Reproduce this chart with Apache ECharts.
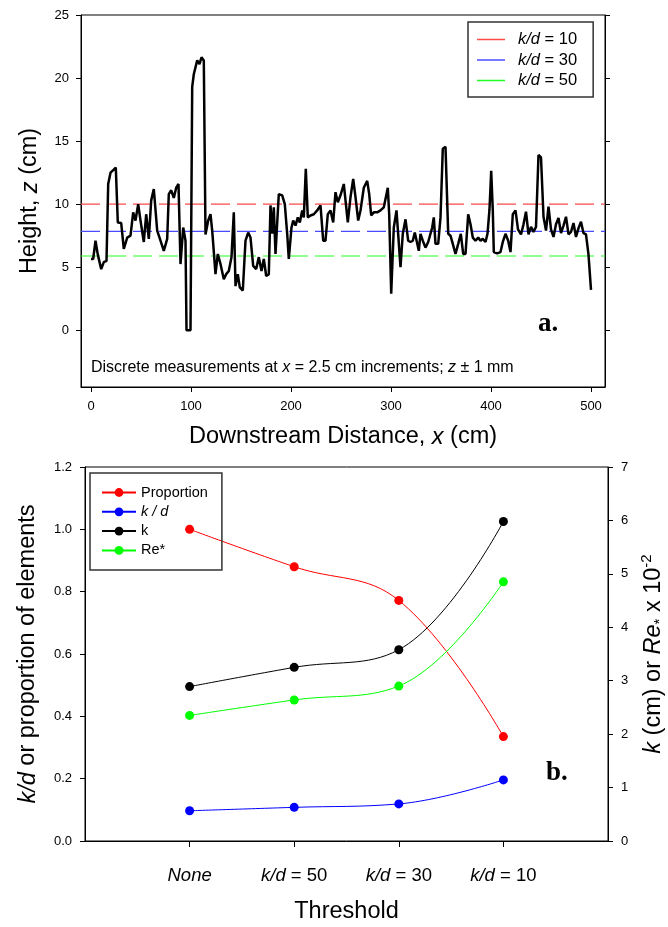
<!DOCTYPE html>
<html>
<head>
<meta charset="utf-8">
<script src="https://cdn.jsdelivr.net/npm/echarts@6/dist/echarts.min.js"></script>
<style>
  html, body { margin: 0; padding: 0; background: #fff; }
  #chart { width: 668px; height: 927px; }
</style>
</head>
<body>
<div id="chart"></div>
<script>
// ---- panel a: bed profile ----
var distance = [0, 2.2, 4.5, 6.8, 10.2, 12.8, 15.5, 17.2, 19.5, 22.2, 24.8, 26.8, 30.2, 32.8, 36.2, 39.5, 42.2, 44.5, 47.2, 49.5,
  52.8, 55.2, 57.8, 60.2, 62.8, 66.2, 69.5, 72.8, 76.2, 77.8, 80.2, 82.8, 85.2, 87.5, 89.5, 92.2, 94.5, 95.5, 99.5,
  101.2, 102.8, 106.2, 108.5, 110.5, 112.8, 114.5, 117.2, 119.5, 121.2, 124.5, 126.8, 129.5, 132.8, 135.2, 137.8, 140.5, 142.8, 144.5, 146.8,
  148.8, 151.8, 154.5, 157.2, 159.5, 162.2, 165.2, 167.8, 170.5, 172.8, 175.2, 177.8, 179.5, 181.2, 182.8, 184.5, 187.8, 191.2, 193.8, 196.2, 197.8,
  200.5, 202.2, 204.5, 206.8, 208.8, 211.2, 212.8, 214.8, 216.8, 219.5, 222.8, 226.2, 229.5, 232.2, 234.5, 236.8, 239.5, 242.2, 244.5, 246.8,
  249.5, 252.8, 256.8, 259.5, 262.2, 264.5, 267.2, 269.5, 272.8, 276.2, 278.2, 280.2, 282.8, 286.2, 289.5, 292.8, 296.8, 298.2, 300.2, 302.8,
  305.5, 307.2, 309.5,
  311.8, 314.5, 317.2, 319.5, 321.8, 323.8, 325.8, 327.8, 329.5, 331.8, 334.5, 337.2, 339.2, 341.2, 342.8, 344.5, 347.2, 349.5, 351.8, 354.5,
  357.2, 359.5, 361.8, 364.5, 367.2, 369.8, 372.2, 374.5, 377.2, 379.5, 381.8, 384.5, 387.2, 389.5, 391.8, 394.5, 396.5, 398.5, 400.2, 401.8,
  402.8, 406.2, 409.5, 411.8, 414.5, 417.2, 419.5, 421.8, 424.5,
  427, 430, 432.5, 435, 437.5, 440, 442.5, 445, 447.5, 450, 452.5, 455, 457.5, 460, 462.5, 465, 467.5, 470, 472.5, 475,
  477.5, 480, 482.5, 485, 487.5, 490, 492.5, 495, 497.5, 500];
var height = [5.65, 5.65, 7.1, 6.0, 4.85, 5.4, 5.5, 11.6, 12.5, 12.7, 12.9, 8.55, 8.5, 6.45, 7.35, 7.5, 9.35, 8.7, 10.0, 8.7,
  7.0, 9.2, 7.25, 10.3, 11.2, 7.9, 7.1, 6.3, 7.25, 10.8, 11.1, 10.5, 11.3, 11.6, 5.25, 8.15, 7.1, 0, 0,
  19.3, 20.3, 21.4, 21.1, 21.65, 21.4, 7.6, 8.7, 9.2, 7.9, 4.45, 6.05, 5.25, 4.05, 4.45, 4.7, 5.8, 9.35, 3.5, 4.45,
  3.4, 3.15, 7.1, 7.75, 7.35, 5.1, 4.85, 5.8, 4.7, 5.65, 4.3, 4.45, 9.9, 7.65, 9.75, 6.05, 10.8, 10.7, 10.0, 7.65, 5.65,
  8.15, 8.7, 8.3, 8.95, 8.55, 9.5, 8.95, 12.8, 8.95, 9.1, 9.2, 9.5, 9.9, 7.1, 7.1, 9.2, 9.5, 8.55, 10.95, 10.15,
  10.7, 11.6, 8.55, 10.55, 12.0, 10.55, 8.7, 9.5, 11.3, 11.85, 10.8, 9.1, 9.35, 9.35, 9.5, 9.75, 11.3, 9.2, 2.9, 8.15,
  9.5, 9.6, 5.0,
  7.65, 8.8, 7.1, 7.0, 7.1, 7.75, 7.65, 6.3, 7.65, 7.1, 6.55, 7.0, 7.1, 8.15, 8.95, 6.85, 6.85, 8.95, 14.4, 14.55,
  7.65, 7.5, 6.85, 6.05, 6.85, 7.65, 6.05, 6.05, 9.2, 8.4, 7.35, 7.1, 7.35, 7.1, 7.25, 7.0, 7.65, 9.6, 12.65, 9.5,
  6.2, 6.1, 6.2, 7.0, 7.65, 7.1, 6.2, 9.2, 9.5,
  8.0, 7.6, 8.4, 9.4, 7.6, 8.2, 7.8, 8.2, 13.9, 13.7, 9.0, 7.9, 9.8, 8.0, 7.4, 8.4, 8.9, 7.7, 8.3, 9.0,
  7.6, 7.8, 8.5, 7.4, 8.1, 8.6, 7.7, 7.6, 6.0, 3.2];
var kdNames = ['k/d = 10', 'k/d = 30', 'k/d = 50'];
var kdLevels = [10.0, 7.84, 5.89];
var kdColors = ['#ff4a4a', '#4a4aff', '#22ff22'];
var heightTicks = [0, 5, 10, 15, 20, 25];
var distanceTicks = [0, 100, 200, 300, 400, 500];

// ---- panel b: threshold summary ----
var thresholds = ['None', 'k/d = 50', 'k/d = 30', 'k/d = 10'];
var proportion = [1.0, 0.88, 0.772, 0.335];
var kOverD = [0.097, 0.108, 0.119, 0.196];
var kCm = [2.89, 3.25, 3.58, 5.98];
var reStar = [2.35, 2.64, 2.90, 4.85];

var F = '"Liberation Sans", Arial, sans-serif';
var chart = echarts.init(document.getElementById('chart'));

function txt(size, extra) {
  var s = { fontSize: size, fontFamily: F, color: '#000' };
  for (var k in extra) s[k] = extra[k];
  return s;
}
function richOf(size) {
  return { i: txt(size, { fontStyle: 'italic' }) };
}
function kd(s) {
  return s === 'None' ? '{i|None}' : s.replace('k/d', '{i|k/d}');
}

var xmin = -10, xmax = 514;

var series = [{
  name: 'profile',
  type: 'line',
  xAxisIndex: 0, yAxisIndex: 0,
  data: distance.map(function (d, i) { return [d, height[i]]; }),
  symbol: 'none',
  lineStyle: { color: '#000', width: 2.5 },
  silent: true,
  z: 5
}];
kdNames.forEach(function (n, i) {
  series.push({
    name: n,
    type: 'line',
    xAxisIndex: 0, yAxisIndex: 0,
    data: [[xmin, kdLevels[i]], [xmax, kdLevels[i]]],
    symbol: 'none',
    color: kdColors[i],
    lineStyle: { color: kdColors[i], width: 1.2, type: [19, 7] },
    silent: true,
    z: 3
  });
});

var bSeries = [
  { name: 'Proportion', vals: proportion, color: '#ff0000', y: 2 },
  { name: 'k / d', vals: kOverD, color: '#0000ff', y: 2 },
  { name: 'k', vals: kCm, color: '#000000', y: 3 },
  { name: 'Re*', vals: reStar, color: '#00ff00', y: 3 }
];
bSeries.forEach(function (s) {
  series.push({
    name: s.name,
    type: 'line',
    xAxisIndex: 1, yAxisIndex: s.y,
    data: s.vals.map(function (v, i) { return [i + 1, v]; }),
    smooth: 0.4,
    symbol: 'circle',
    symbolSize: 9,
    color: s.color,
    itemStyle: { color: s.color },
    lineStyle: { color: s.color, width: 1 },
    silent: true
  });
});

var axisBlack = { onZero: false, lineStyle: { color: '#000', width: 1 } };

var option = {
  animation: false,
  backgroundColor: '#fff',
  grid: [
    { left: 81, top: 15, width: 524, height: 372, show: true, borderColor: '#000', borderWidth: 1, outerBoundsMode: 'none' },
    { left: 85, top: 467, width: 523, height: 374, show: true, borderColor: '#000', borderWidth: 1, outerBoundsMode: 'none' }
  ],
  xAxis: [{
    gridIndex: 0, type: 'value', min: xmin, max: xmax,
    axisLine: axisBlack,
    axisTick: { customValues: distanceTicks, length: 5, lineStyle: { color: '#000' } },
    axisLabel: { customValues: distanceTicks, margin: 13, fontSize: 13, fontFamily: F, color: '#000' },
    splitLine: { show: false },
    name: 'Downstream Distance, {i|x} (cm)', nameLocation: 'middle', nameGap: 38,
    nameTextStyle: txt(23.5, { rich: richOf(23.5) })
  }, {
    gridIndex: 1, type: 'value', min: 0, max: 5,
    axisLine: axisBlack,
    axisTick: { customValues: [1, 2, 3, 4], length: 6, lineStyle: { color: '#000' } },
    axisLabel: {
      customValues: [1, 2, 3, 4], margin: 25, fontSize: 18.5, fontFamily: F, color: '#000',
      formatter: function (v) { return kd(thresholds[v - 1]); },
      rich: richOf(18.5)
    },
    splitLine: { show: false },
    name: 'Threshold', nameLocation: 'middle', nameGap: 59,
    nameTextStyle: txt(23.5)
  }],
  yAxis: [{
    gridIndex: 0, type: 'value', min: -4.5, max: 25,
    axisLine: axisBlack,
    axisTick: { customValues: heightTicks, length: 5, lineStyle: { color: '#000' } },
    axisLabel: { customValues: heightTicks, margin: 12, fontSize: 13, fontFamily: F, color: '#000' },
    splitLine: { show: false },
    name: 'Height, {i|z} (cm)', nameLocation: 'middle', nameGap: 39, nameRotate: 90,
    nameTextStyle: txt(23.5, { rich: richOf(23.5) })
  }, {
    gridIndex: 0, type: 'value', position: 'right', min: -4.5, max: 25,
    axisLine: axisBlack,
    axisTick: { customValues: heightTicks, length: 5, lineStyle: { color: '#000' } },
    axisLabel: { show: false },
    splitLine: { show: false }
  }, {
    gridIndex: 1, type: 'value', min: 0, max: 1.2, interval: 0.2,
    axisLine: axisBlack,
    axisTick: { length: 5, lineStyle: { color: '#000' } },
    axisLabel: { margin: 13, fontSize: 13, fontFamily: F, color: '#000', formatter: function (v) { return v.toFixed(1); } },
    splitLine: { show: false },
    name: '{i|k/d} or proportion of elements', nameLocation: 'middle', nameGap: 45, nameRotate: 90,
    nameTextStyle: txt(23.5, { rich: richOf(23.5) })
  }, {
    gridIndex: 1, type: 'value', position: 'right', min: 0, max: 7, interval: 1,
    axisLine: axisBlack,
    axisTick: { length: 5, lineStyle: { color: '#000' } },
    axisLabel: { margin: 13, fontSize: 13, fontFamily: F, color: '#000' },
    splitLine: { show: false },
    name: '{i|k} (cm) or {i|Re}{sub|*} x 10{sup|-2}', nameLocation: 'middle', nameGap: 30, nameRotate: 90,
    nameTextStyle: txt(23.5, {
      lineHeight: 28,
      rich: {
        i: txt(23.5, { fontStyle: 'italic', lineHeight: 28 }),
        sub: txt(15, { lineHeight: 15, verticalAlign: 'bottom' }),
        sup: txt(15, { lineHeight: 15, verticalAlign: 'top' })
      }
    })
  }],
  legend: [{
    data: kdNames.map(function (n) { return { name: n, icon: 'rect' }; }),
    orient: 'vertical', left: 468, top: 22,
    padding: [9, 16, 8, 9], itemGap: 3.5, itemWidth: 28, itemHeight: 1.5,
    borderColor: '#333', borderWidth: 1.5,
    selectedMode: false,
    formatter: kd,
    textStyle: txt(16.5, { lineHeight: 16, padding: [0, 0, 0, 8], rich: richOf(16.5) })
  }, {
    data: bSeries.map(function (s) { return s.name; }),
    orient: 'vertical', left: 90, top: 473,
    padding: [12, 14, 12, 11], itemGap: 4.3, itemWidth: 34, itemHeight: 11,
    borderColor: '#333', borderWidth: 1.5,
    selectedMode: false,
    formatter: function (n) { return n === 'k / d' ? '{i|k / d}' : n; },
    textStyle: txt(14.5, { lineHeight: 14, rich: richOf(14.5) })
  }],
  graphic: [{
    type: 'text', left: 91, top: 360,
    style: {
      text: 'Discrete measurements at {i|x} = 2.5 cm increments; {i|z} \u00b1 1 mm',
      fontSize: 16, fontFamily: F, fill: '#000',
      rich: { i: { fontSize: 16, fontFamily: F, fontStyle: 'italic', fill: '#000' } }
    }
  }, {
    type: 'text', left: 538, top: 311,
    style: { text: 'a.', font: 'bold 27px "Liberation Serif", "Times New Roman", serif', fill: '#000' }
  }, {
    type: 'text', left: 546, top: 760,
    style: { text: 'b.', font: 'bold 27px "Liberation Serif", "Times New Roman", serif', fill: '#000' }
  }],
  series: series
};

chart.setOption(option);
</script>
</body>
</html>
